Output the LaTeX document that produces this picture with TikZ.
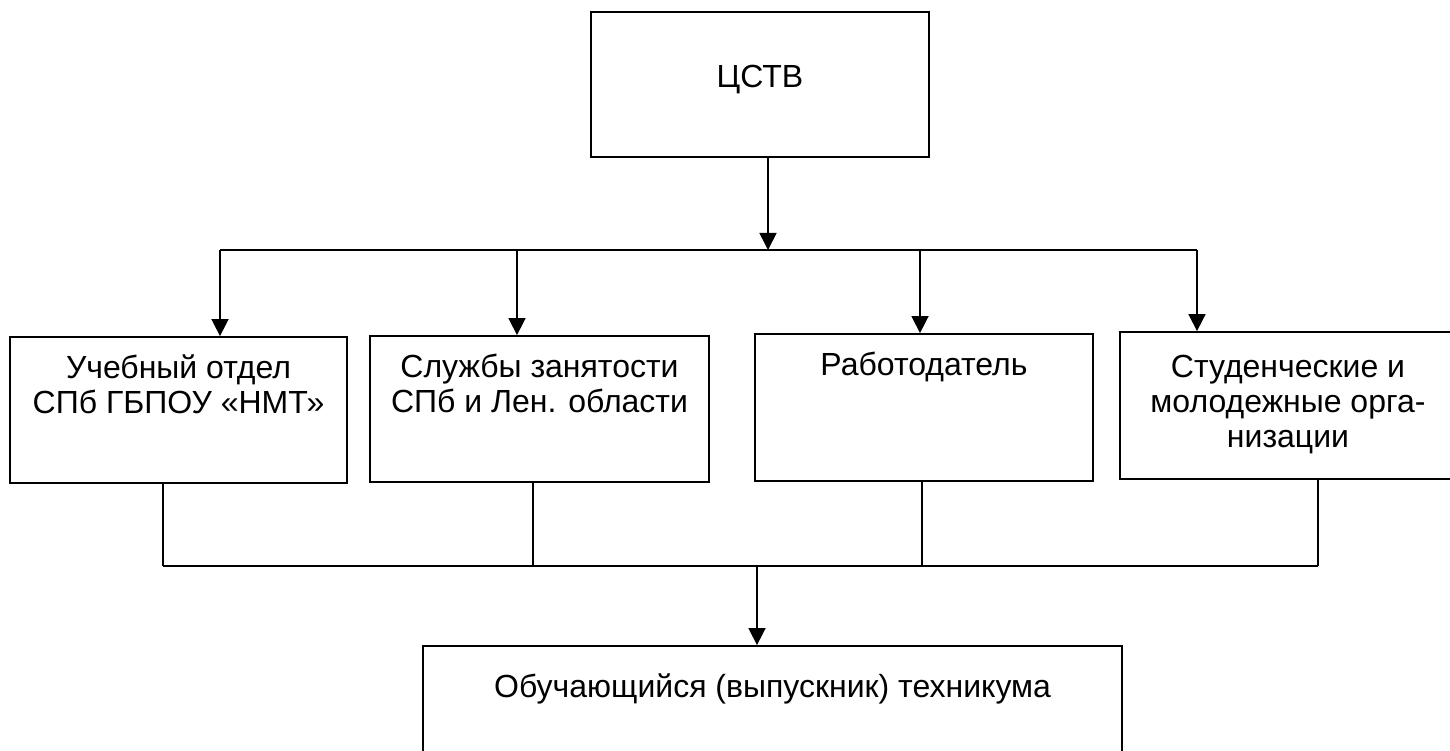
\documentclass[tikz,border=0pt]{standalone}
\usepackage{fontspec}
\setmainfont{Liberation Sans}
\usetikzlibrary{arrows.meta}
\begin{document}
\begin{tikzpicture}[x=1pt,y=-1pt,
  box/.style={draw, line width=1.8pt, inner sep=0pt},
  lbl/.style={font=\fontsize{32}{35}\selectfont, align=center, inner sep=0pt, anchor=base},
  conn/.style={line width=1.6pt},
  arr/.style={conn, -{Triangle[length=17pt,width=17pt]}}]
\useasboundingbox (0,0) rectangle (1450,751);
% boxes
\node[box, minimum width=338pt, minimum height=145pt] (top) at (760,84.5) {};
\node[box, minimum width=337pt, minimum height=146pt] (b1) at (178.5,410) {};
\node[box, minimum width=339pt, minimum height=146pt] (b2) at (539.5,409) {};
\node[box, minimum width=338pt, minimum height=147pt] (b3) at (924,407.5) {};
\node[box, minimum width=336pt, minimum height=147pt] (b4) at (1288,405.5) {};
\node[box, minimum width=699pt, minimum height=174pt] (bot) at (772.5,733) {};
% labels (base anchor = baseline of the last line)
\node[lbl] (t0) at (760,88) {ЦСТВ};
\node[lbl] (t1) at (178.5,413) {Учебный отдел\\СПб ГБПОУ «НМТ»};
\node[lbl] (t2) at (539.5,412) {Службы занятости\\СПб и Лен. области};
\node[lbl] (t3) at (924,375) {Работодатель};
\node[lbl] (t4) at (1288,447) {Студенческие и\\молодежные орга-\\низации};
\node[lbl] (t5) at (772.5,697) {Обучающийся (выпускник) техникума};
% top distribution
\coordinate (j0) at (768,250);
\coordinate (a1) at (220,250);
\coordinate (a2) at (517,250);
\coordinate (a3) at (920,250);
\coordinate (a4) at (1197,250);
\draw[arr] (top.south -| j0) -- (j0);
\draw[conn] (a1) -- (a4);
\draw[arr] (a1) -- (a1 |- b1.north);
\draw[arr] (a2) -- (a2 |- b2.north);
\draw[arr] (a3) -- (a3 |- b3.north);
\draw[arr] (a4) -- (a4 |- b4.north);
% bottom collection
\coordinate (c1) at (163,566);
\coordinate (c2) at (533,566);
\coordinate (c3) at (922,566);
\coordinate (c4) at (1318,566);
\coordinate (m) at (757,566);
\draw[conn] (c1 |- b1.south) -- (c1);
\draw[conn] (c2 |- b2.south) -- (c2);
\draw[conn] (c3 |- b3.south) -- (c3);
\draw[conn] (c4 |- b4.south) -- (c4);
\draw[conn] (c1) -- (c4);
\draw[arr] (m) -- (m |- bot.north);
\end{tikzpicture}
\end{document}
